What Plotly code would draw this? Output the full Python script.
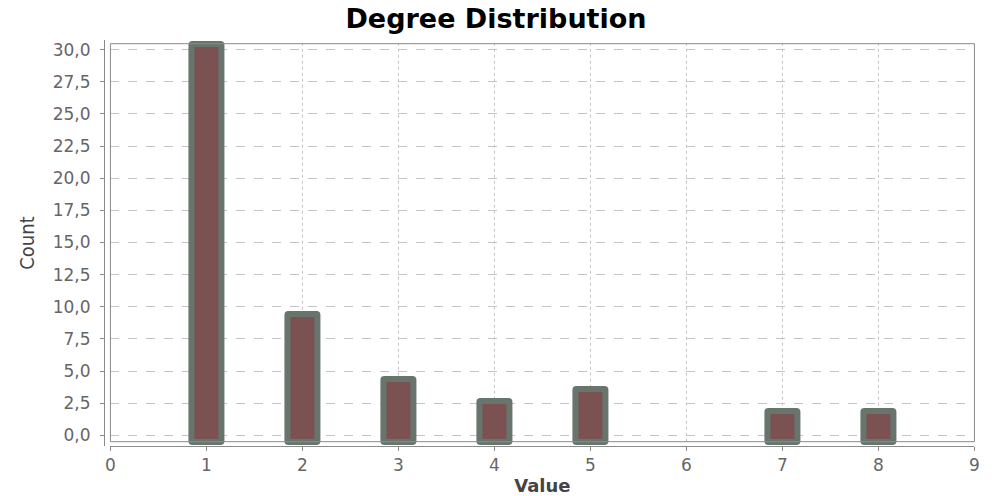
import plotly.graph_objects as go

# Degree distribution data
degrees = [1, 2, 3, 4, 5, 7, 8]
counts = [30.4, 9.4, 4.4, 2.7, 3.6, 1.9, 1.9]

x_ticks = [0, 1, 2, 3, 4, 5, 6, 7, 8, 9]
y_ticks = [0, 2.5, 5, 7.5, 10, 12.5, 15, 17.5, 20, 22.5, 25, 27.5, 30]

W, H = 992, 496

# plot frame in pixels
frame_left, frame_right = 106.5, 979.3
frame_top, frame_bottom = 43.7, 441.7
# y scale: 0 at 435.3 px, 30 at 49.6 px
px_per_unit = (435.3 - 49.6) / 30.0
y0_px = 435.3

# extend the drawing region a little so bar outlines are not clipped
ext_top, ext_bottom = 40.0, 446.0
y_lo = -(ext_bottom - y0_px) / px_per_unit
y_hi = (y0_px - ext_top) / px_per_unit
bar_base = -(frame_bottom - y0_px) / px_per_unit

fill_col = "#7b5151"
edge_col = "#67756d"
grid_col = "#c4c4c4"
axis_col = "#8a8a8a"

fig = go.Figure()
fig.add_trace(go.Bar(
    x=degrees,
    y=[c - bar_base for c in counts],
    base=bar_base,
    width=0.31,
    marker=dict(color=fill_col, line=dict(color=edge_col, width=6), cornerradius=1),
    hoverinfo="skip",
))

shapes = []
# vertical dashed gridlines confined to the frame
for t in x_ticks[1:-1]:
    shapes.append(dict(type="line", xref="x", yref="paper", x0=t, x1=t,
                       y0=1 - frame_bottom / H, y1=1 - frame_top / H,
                       line=dict(color=grid_col, width=1, dash="dot"), layer="below"))
# frame border
shapes.append(dict(type="rect", xref="paper", yref="paper",
                   x0=frame_left / W, x1=frame_right / W,
                   y0=1 - frame_bottom / H, y1=1 - frame_top / H,
                   line=dict(color=axis_col, width=1), layer="above"))

fig.update_layout(
    width=W, height=H,
    margin=dict(l=0, r=0, t=0, b=0),
    paper_bgcolor="white", plot_bgcolor="white",
    separators=",.",
    showlegend=False,
    bargap=0,
    shapes=shapes,
    title=dict(text="<b>Degree Distribution</b>", x=0.5, xanchor="center",
               y=1 - 19 / H, yanchor="middle",
               font=dict(family="DejaVu Sans", size=27, color="black")),
    xaxis=dict(
        domain=[frame_left / W, frame_right / W],
        range=[0, 9],
        anchor="free", position=1 - 446 / H,
        tickmode="array", tickvals=x_ticks, ticktext=[str(t) for t in x_ticks],
        ticks="outside", ticklen=4, tickcolor=axis_col,
        showline=True, linecolor=axis_col, linewidth=1,
        showgrid=False, zeroline=False,
        tickfont=dict(family="DejaVu Sans", size=17, color="#666666"),
        title=dict(text="<b>Value</b>", standoff=4,
                   font=dict(family="DejaVu Sans", size=18, color="#444444")),
    ),
    yaxis=dict(
        domain=[1 - ext_bottom / H, 1 - ext_top / H],
        range=[y_lo, y_hi],
        anchor="free", position=100 / W,
        tickmode="array", tickvals=y_ticks,
        tickformat=".1f",
        ticks="outside", ticklen=4, tickcolor=axis_col,
        ticklabelstandoff=6,
        showline=True, linecolor=axis_col, linewidth=1,
        showgrid=True, gridcolor=grid_col, griddash="dash", gridwidth=1,
        zeroline=False,
        tickfont=dict(family="DejaVu Sans", size=17, color="#666666"),
        title=dict(text="Count", standoff=11,
                   font=dict(family="DejaVu Sans Condensed", size=20, color="#444444")),
    ),
)

fig.write_html("out.html")
